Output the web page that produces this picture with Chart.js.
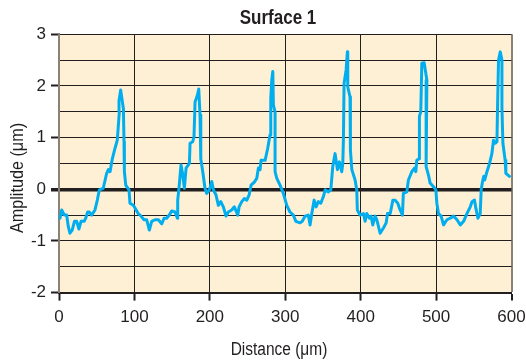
<!DOCTYPE html>
<html>
<head>
<meta charset="utf-8">
<script src="https://cdn.jsdelivr.net/npm/chart.js@4.4.1/dist/chart.umd.min.js"></script>
<style>
  body { margin: 0; background: #fff; }
</style>
</head>
<body>
<canvas id="surface-chart" width="526" height="361"></canvas>
<script>
// profile: distance (um) and amplitude (um)
var distance = [
  1.3, 3.6, 7.1, 10.2, 12.3, 14.5, 17.5, 20.5, 23.5, 26.4, 29.2, 33.4, 35.4, 38, 40.3, 43.3, 47.7, 50.8, 53.5, 58.7,
  63.2, 65.4, 67.7, 70.7, 74.2, 77.3, 80, 79.6, 81.8, 85.4, 86.2, 86.7, 88.5, 92.8, 94.1, 98.6, 105,
  107.5, 112.7, 116.3, 119.8, 122.9, 127.3, 131.8, 136.2, 139.3, 142.7, 146.3, 149.4, 153.9, 157, 157.4, 159.1,
  161.8, 164.1, 166.2, 168.5, 172.9, 173.8, 177.3, 179, 180.4, 183.5, 185.3, 187, 188, 190.6, 193.6, 195.9,
  199.4, 202.6, 204.7, 208.2, 211.3, 214.5, 217.9, 221.5, 224.5,
  229, 232.5, 237.1, 238.8, 242.3, 245.8, 249, 252.1, 254.7, 259, 262.2, 264.4, 266.6, 267.9, 273.3, 276.7,
  279.8, 280.8, 282.1, 283.5, 284.3, 286.5, 286.5, 288.8, 293.1, 297.5, 302, 306.3, 310.7, 314, 319.7, 322.6,
  326.3, 330.6, 332.9,
  335.2, 338.3, 340.9, 343.9, 347.1, 350.6, 352.9, 357.2, 360.4, 363, 366.1, 369.2, 371.8, 374.9, 376.3, 377.1,
  378, 380.7, 382.4, 382.9, 385.9, 386.9, 385.9, 388.3, 392.6, 394.8, 395.6, 399.2, 403.7, 405.9, 408.1, 411.6,
  413.8, 416.1, 419.1, 421.4, 425.8, 430.2, 433.8, 435.6, 439.2, 442.7, 445.7,
  449.2, 452.3, 455.4, 456.6, 461.2, 463.3, 467.8, 471.3, 473.1, 474.4, 477.5, 477.9, 479.7, 481.1, 484.2, 487.8,
  486.8, 489.8, 492.1, 496.5, 499.7, 501, 503.2, 506.7, 509.9, 514.4, 518.8, 523.2, 527.7, 532.1, 536.5, 540.9,
  545.3, 547.6, 550.9, 552.8, 555.5, 558.5, 559.8, 561.6, 563.2, 564.5, 567.4, 570.9, 574, 576.1, 578.4, 580.7,
  581.5, 582.8, 585.1, 587.3, 587.3, 588.6, 591.6, 592.5, 597.3
];
var amplitude = [
  -0.56, -0.40, -0.50, -0.50, -0.72, -0.85, -0.79, -0.62, -0.62, -0.77, -0.62, -0.62, -0.56, -0.44, -0.44, -0.50, -0.40, -0.21, -0.01, 0.02,
  0.31, 0.38, 0.34, 0.59, 0.79, 0.95, 1.50, 1.72, 1.92, 1.56, 0.92, 0.34, 0.08, -0.01, -0.27, -0.31, -0.47,
  -0.50, -0.59, -0.59, -0.79, -0.62, -0.59, -0.59, -0.67, -0.56, -0.56, -0.50, -0.42, -0.44, -0.56, -0.21, 0.02,
  0.47, 0.28, 0.02, 0.41, 0.50, 0.89, 0.92, 1.02, 1.69, 1.82, 1.94, 1.44, 0.59, 0.34, 0.02, -0.08,
  -0.01, 0.15, -0.01, -0.11, -0.31, -0.24, -0.34, -0.52, -0.44,
  -0.40, -0.34, -0.50, -0.34, -0.24, -0.18, -0.21, -0.11, 0.08, 0.14, 0.21, 0.41, 0.38, 0.56, 0.56, 0.79,
  1.05, 1.76, 2.11, 2.28, 1.63, 1.50, 0.34, 0.21, 0.08, -0.08, -0.31, -0.44, -0.50, -0.62, -0.65, -0.62,
  -0.52, -0.50, -0.69,
  -0.47, -0.21, -0.34, -0.24, -0.27, -0.14, -0.01, -0.05, -0.01, 0.44, 0.69, 0.38, 0.53, 0.34, 0.50, 0.95,
  2.05, 2.31, 2.66, 1.98, 1.79, 1.66, 0.76, 0.38, 0.18, -0.01, -0.40, -0.50, -0.47, -0.62, -0.47, -0.56,
  -0.52, -0.69, -0.52, -0.59, -0.85, -0.75, -0.65, -0.47, -0.47, -0.21, -0.21,
  -0.27, -0.40, -0.50, -0.08, -0.05, 0.18, 0.34, 0.41, 0.34, 0.56, 0.59, 1.41, 1.50, 2.44, 2.45, 2.11,
  0.44, 0.28, 0.12, 0.05, -0.01, -0.27, -0.47, -0.52, -0.69, -0.59, -0.56, -0.52, -0.59, -0.69, -0.62, -0.47,
  -0.34, -0.24, -0.21, -0.37, -0.56, -0.47, -0.01, 0.15, 0.25, 0.18, 0.34, 0.50, 0.69, 0.95, 0.89, 0.92,
  1.59, 2.50, 2.66, 2.50, 1.59, 0.89, 0.56, 0.31, 0.25
];
var xTicks = [0, 100, 200, 300, 400, 500, 600];
var yTicks = [-2, -1, 0, 1, 2, 3];

var titleText = "Surface 1";
var xTitle = "Distance (\u03bcm)";
var yTitle = "Amplitude (\u03bcm)";

var ink = "#231f20";
var edge = "#8a8279";

var points = distance.map(function (d, i) { return { x: d, y: amplitude[i] }; });

// narrow-looking text: squeeze horizontally
function narrowText(c, text, x, y, angle, squeeze) {
  c.save();
  c.translate(x, y);
  c.rotate(angle);
  c.scale(squeeze, 1);
  c.fillText(text, 0, 0);
  c.restore();
}

// cream plot background plus the three titles
var decor = {
  id: "decor",
  beforeDraw: function (chart) {
    var a = chart.chartArea, c = chart.ctx;
    c.save();
    c.fillStyle = "#fdf0d4";
    c.fillRect(a.left, a.top, a.right - a.left, a.bottom - a.top);
    c.restore();
  },
  afterDraw: function (chart) {
    var c = chart.ctx;
    c.save();
    c.fillStyle = ink;
    c.textAlign = "center";
    c.textBaseline = "middle";
    c.font = "bold 20px Arial, 'Liberation Sans', sans-serif";
    narrowText(c, titleText, 278, 18, 0, 0.85);
    c.font = "18px Arial, 'Liberation Sans', sans-serif";
    narrowText(c, xTitle, 279, 350, 0, 0.86);
    narrowText(c, yTitle, 18, 178, -Math.PI / 2, 0.9);
    c.restore();
  }
};

new Chart(document.getElementById("surface-chart"), {
  type: "line",
  data: {
    datasets: [{
      data: points,
      borderColor: "#00aeef",
      borderWidth: 3,
      borderJoinStyle: "round",
      borderCapStyle: "round",
      pointRadius: 0,
      tension: 0,
      fill: false
    }]
  },
  options: {
    responsive: false,
    animation: false,
    devicePixelRatio: 1,
    layout: { padding: { left: 0, right: 14.5, top: 34.3, bottom: 0 } },
    plugins: { legend: { display: false }, title: { display: false }, tooltip: { enabled: false } },
    scales: {
      x: {
        type: "linear",
        min: 0,
        max: 600,
        afterFit: function (s) { s.height = 68.4; s.paddingLeft = 0; s.paddingRight = 0; },
        afterBuildTicks: function (s) { s.ticks = xTicks.map(function (v) { return { value: v }; }); },
        ticks: { color: ink, font: { family: "Arial, 'Liberation Sans', sans-serif", size: 17 }, padding: 7, maxRotation: 0, autoSkip: false },
        border: { display: true, color: ink, width: 2 },
        grid: {
          color: function (ctx) {
            if (ctx.tick.value === 0) return "rgba(0,0,0,0)";
            return ctx.tick.value === 600 ? edge : ink;
          },
          lineWidth: function (ctx) { return ctx.tick.value === 600 ? 2 : 1; },
          tickColor: ink,
          tickWidth: 2,
          tickLength: 8
        }
      },
      y: {
        min: -2,
        max: 3,
        afterFit: function (s) { s.width = 59; },
        ticks: {
          stepSize: 0.5,
          color: ink,
          font: { family: "Arial, 'Liberation Sans', sans-serif", size: 17 },
          padding: 5,
          callback: function (v) { return yTicks.indexOf(v) >= 0 ? String(v) : ""; }
        },
        border: { display: true, color: edge, width: 2 },
        grid: {
          color: function (ctx) { return ctx.tick.value === -2 ? "rgba(0,0,0,0)" : ink; },
          lineWidth: function (ctx) { return ctx.tick.value === 0 ? 3.5 : 1; },
          tickColor: function (ctx) {
            return yTicks.indexOf(ctx.tick.value) >= 0 ? ink : "rgba(0,0,0,0)";
          },
          tickWidth: function (ctx) { return ctx.tick.value === 0 ? 3.5 : 2; },
          tickLength: 8
        }
      }
    }
  },
  plugins: [decor]
});
</script>
</body>
</html>
